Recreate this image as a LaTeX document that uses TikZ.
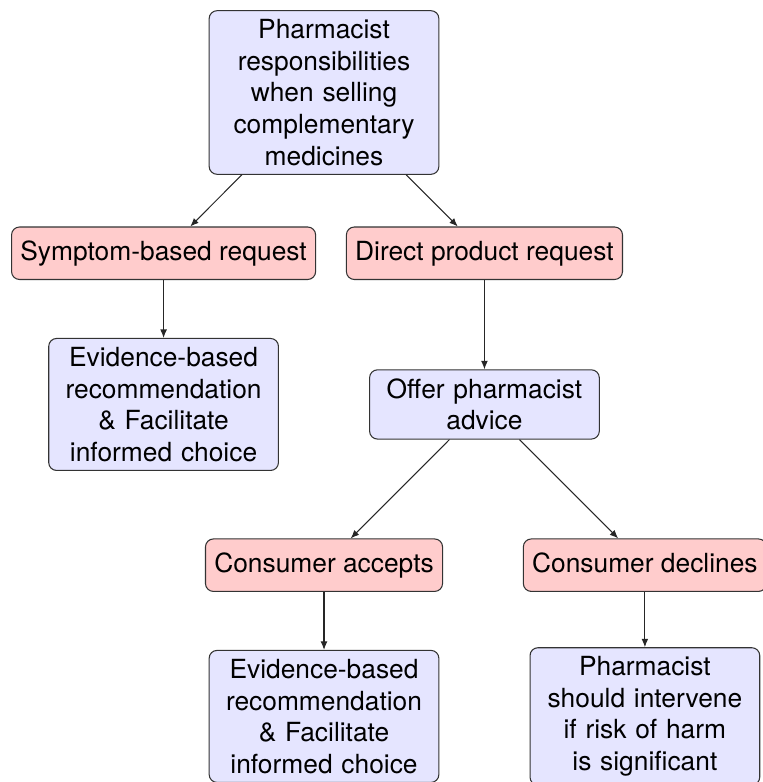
\documentclass[tikz,border=0pt]{standalone}
\usepackage{fontspec}
\setmainfont{TeX Gyre Heros}
\usepackage{tikz}
\usetikzlibrary{arrows.meta, positioning}
\tikzset{
  pc box/.style={
    rectangle, rounded corners=3pt, draw=black!80, fill=blue!10,
    text width=2.83cm, align=center, inner sep=3.33pt
  },
  pc request/.style={
    rectangle, rounded corners=3pt, draw=black!80, fill=red!20,
    minimum height=0.7cm, text height=7.3pt, text depth=2.1pt,
    inner sep=3.33pt
  },
  pc arrow/.style={
    -{Latex[length=3.2pt, width=2.6pt]}, draw=black!85
  }
}

\begin{document}
\begin{tikzpicture}[on grid, node distance=2.144cm and 2.14cm]
  \useasboundingbox (-4.322,-9.197) rectangle (5.843,1.234);

  \node (top) [pc box] at (0,0) {Pharmacist\\responsibilities\\when selling\\complementary\\medicines};
  \node (sym) [pc request, below left=of top] {Symptom-based request};
  \node (direct) [pc request, below right=of top] {Direct product request};
  \node (ev1) [pc box, below=2.017cm of sym] {Evidence-based\\recommendation\\\& Facilitate\\informed choice};
  \node (offer) [pc box, below=2.017cm of direct] {Offer pharmacist\\advice};
  \node (accepts) [pc request, below left=of offer] {Consumer accepts};
  \node (declines) [pc request, below right=of offer] {Consumer declines};
  \node (ev2) [pc box, below=2.017cm of accepts] {Evidence-based\\recommendation\\\& Facilitate\\informed choice};
  \node (harm) [pc box, below=2.017cm of declines] {Pharmacist\\should intervene\\if risk of harm\\is significant};

  \draw [pc arrow] (top) -- (sym);
  \draw [pc arrow] (top) -- (direct);
  \draw [pc arrow] (sym) -- (ev1);
  \draw [pc arrow] (direct) -- (offer);
  \draw [pc arrow] (offer) -- (accepts);
  \draw [pc arrow] (offer) -- (declines);
  \draw [pc arrow] (accepts) -- (ev2);
  \draw [pc arrow] (declines) -- (harm);
\end{tikzpicture}
\end{document}
